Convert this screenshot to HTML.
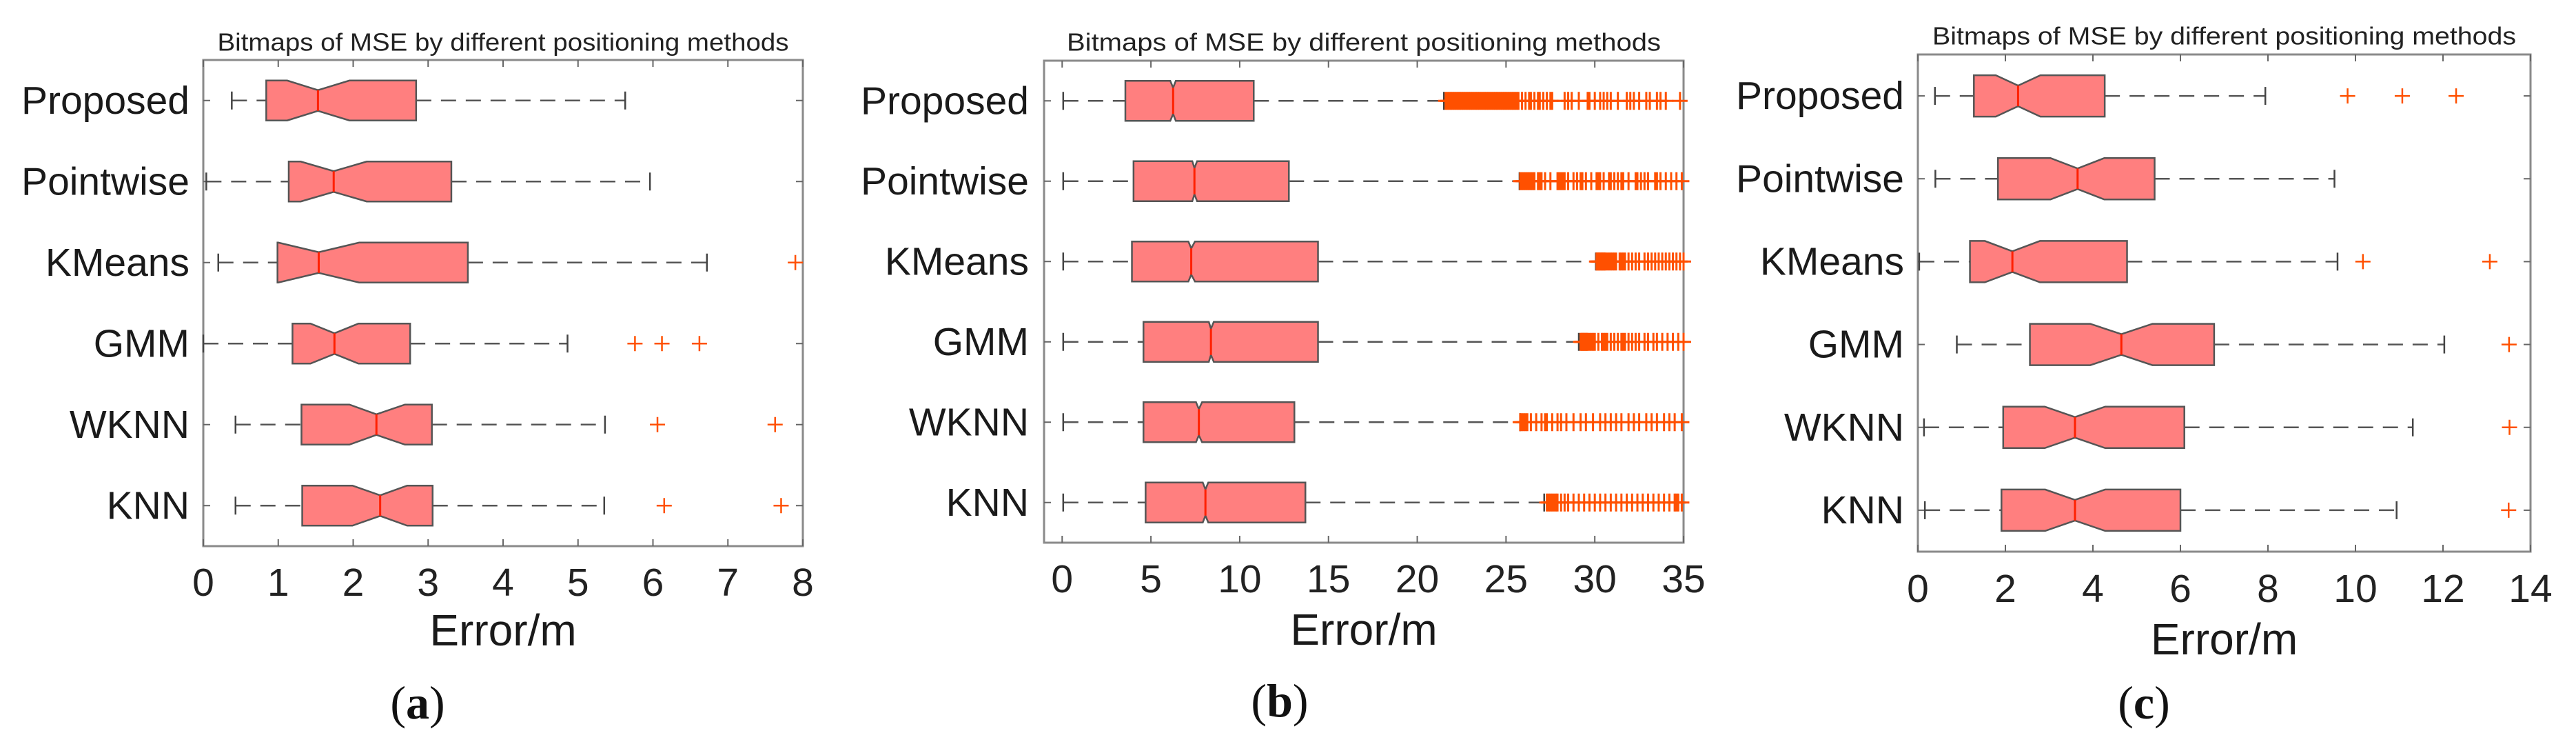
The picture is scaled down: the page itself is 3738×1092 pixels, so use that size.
<!DOCTYPE html>
<html><head><meta charset="utf-8"><style>
html,body{margin:0;padding:0;background:#fff;}
svg{display:block;font-family:"Liberation Sans",Arial,sans-serif;}
</style></head><body>
<svg id="fig" width="3738" height="1092" viewBox="0 0 3738 1092" xmlns="http://www.w3.org/2000/svg"></svg>
<script>
const categories = ["Proposed","Pointwise","KMeans","GMM","WKNN","KNN"];

// Panel (a)
const aWhiskLo = [0.38,0.04,0.20,0.00,0.43,0.43];
const aQ1      = [0.84,1.14,0.99,1.19,1.31,1.32];
const aNotchLo = [1.12,1.30,1.00,1.43,1.95,1.99];
const aMedian  = [1.53,1.74,1.54,1.75,2.31,2.36];
const aNotchHi = [1.95,2.18,2.08,2.07,2.69,2.72];
const aQ3      = [2.84,3.31,3.53,2.76,3.05,3.06];
const aWhiskHi = [5.63,5.96,6.72,4.86,5.36,5.35];
const aOutliers = [[],[],[7.90],[5.76,6.12,6.62],[6.06,7.63],[6.15,7.71]];
const aTicks = [0,1,2,3,4,5,6,7,8];

// Panel (b)
const bWhiskLo = [0.06,0.06,0.06,0.06,0.06,0.06];
const bQ1      = [3.56,4.02,3.93,4.58,4.58,4.70];
const bNotchLo = [6.09,7.33,7.11,8.26,7.54,7.92];
const bMedian  = [6.25,7.45,7.27,8.38,7.70,8.07];
const bNotchHi = [6.40,7.60,7.48,8.54,7.88,8.23];
const bQ3      = [10.79,12.77,14.41,14.41,13.08,13.70];
const bWhiskHi = [21.5,25.76,30.06,29.1,25.79,27.15];
const bOutliers = [
 [21.6,21.7,21.8,21.9,22.0,22.1,22.2,22.3,22.4,22.5,22.6,22.7,22.8,22.9,23.0,23.1,23.2,23.3,23.4,23.5,23.6,23.7,23.8,23.9,24.0,24.1,24.2,24.3,24.4,24.5,24.6,24.7,24.8,24.9,25.0,25.1,25.2,25.3,25.4,25.5,25.6,25.7,25.9,26.1,26.3,26.4,26.6,26.8,26.9,27.1,27.3,27.5,27.6,28.3,28.5,28.7,29.1,29.6,29.7,30.0,30.3,30.5,30.7,30.9,31.3,31.8,32.0,32.2,32.5,32.9,33.1,33.5,33.7,34.0,34.8],
 [25.8,25.9,26.0,26.1,26.2,26.3,26.4,26.5,26.6,26.8,26.9,27.0,27.2,27.5,27.9,28.0,28.1,28.2,28.3,28.5,28.8,29.0,29.2,29.3,29.5,29.8,30.1,30.2,30.3,30.5,30.8,30.9,31.1,31.3,31.5,31.6,31.9,32.3,32.4,32.6,32.8,33.0,33.4,33.5,33.7,34.0,34.3,34.6,34.9],
 [30.1,30.15,30.2,30.25,30.3,30.35,30.4,30.45,30.5,30.55,30.6,30.7,30.8,30.9,31.0,31.1,31.2,31.4,31.5,31.6,31.7,31.9,32.1,32.3,32.5,32.8,33.0,33.2,33.4,33.6,33.8,34.0,34.2,34.4,34.6,34.8,35.0],
 [29.2,29.25,29.3,29.35,29.4,29.45,29.5,29.55,29.6,29.7,29.8,29.9,30.0,30.2,30.4,30.5,30.6,30.7,30.9,31.1,31.3,31.5,31.6,31.7,31.9,32.1,32.3,32.5,32.8,33.0,33.3,33.5,33.8,34.1,34.4,34.7,35.0],
 [25.8,25.9,26.0,26.1,26.2,26.4,26.7,27.0,27.2,27.3,27.6,27.9,28.1,28.4,28.8,29.2,29.5,29.9,30.3,30.6,30.9,31.2,31.5,31.9,32.2,32.5,32.9,33.2,33.5,33.9,34.2,34.5,34.9],
 [27.3,27.4,27.5,27.6,27.7,27.8,27.9,28.1,28.3,28.5,28.8,29.1,29.4,29.7,30.0,30.3,30.6,30.9,31.2,31.5,31.8,32.1,32.4,32.7,33.0,33.3,33.6,33.9,34.2,34.5,34.6,34.7,34.9]
];
const bTicks = [0,5,10,15,20,25,30,35];

// Panel (c)
const cWhiskLo = [0.39,0.40,0.03,0.89,0.14,0.16];
const cQ1      = [1.28,1.83,1.19,2.56,1.95,1.91];
const cNotchLo = [1.78,3.03,1.53,3.94,2.90,2.91];
const cMedian  = [2.29,3.65,2.16,4.65,3.59,3.59];
const cNotchHi = [2.80,4.26,2.79,5.36,4.28,4.28];
const cQ3      = [4.27,5.41,4.78,6.77,6.09,6.00];
const cWhiskHi = [7.94,9.52,9.59,12.03,11.31,10.94];
const cOutliers = [[9.82,11.07,12.3],[],[10.17,13.07],[13.51],[13.52],[13.5]];
const cTicks = [0,2,4,6,8,10,12,14];

const NS = "http://www.w3.org/2000/svg";
const svg = document.getElementById('fig');
function mk(tag, attrs, parent){
  const e = document.createElementNS(NS, tag);
  for (const k in attrs) e.setAttribute(k, attrs[k]);
  (parent||svg).appendChild(e);
  return e;
}

function panel(p){
  const g = mk('g', {});
  
  
  const xs = v => p.L + (v - p.xmin) / (p.xmax - p.xmin) * (p.R - p.L);
  const ys = i => p.T + (i + 0.5) / categories.length * (p.B - p.T);
  const half = p.half;

  const t = mk('text', {x:(p.L+p.R)/2, y:p.titleY, 'text-anchor':'middle', 'dominant-baseline':'central', 'font-size':36, fill:'#222', textLength:p.titleW, lengthAdjust:'spacingAndGlyphs'}, g);
  t.textContent = 'Bitmaps of MSE by different positioning methods';
  
  

  const box = mk('rect', {x:p.L, y:p.T, width:p.R-p.L, height:p.B-p.T, fill:'none', stroke:'#8a8a8a', 'stroke-width':3}, g);
  
  

  p.ticks.forEach(v => {
    const x = xs(v);
    mk('line', {x1:x, x2:x, y1:p.B, y2:p.B-10, stroke:'#666', 'stroke-width':2}, g);
    mk('line', {x1:x, x2:x, y1:p.T, y2:p.T+10, stroke:'#666', 'stroke-width':2}, g);
    const tl = mk('text', {x:x, y:p.tickY, 'text-anchor':'middle', 'dominant-baseline':'central', 'font-size':57, fill:'#222'}, g);
    tl.textContent = v;
    
    
  });

  categories.forEach((c, i) => {
    const y = ys(i);
    mk('line', {x1:p.L, x2:p.L+10, y1:y, y2:y, stroke:'#666', 'stroke-width':2}, g);
    mk('line', {x1:p.R, x2:p.R-10, y1:y, y2:y, stroke:'#666', 'stroke-width':2}, g);
    const lab = mk('text', {x:p.labelX, y:y, 'text-anchor':'end', 'dominant-baseline':'central', 'font-size':57, fill:'#1a1a1a'}, g);
    lab.textContent = c;
    
    

    const wl = mk('line', {x1:xs(p.wlo[i]), x2:xs(p.q1[i]), y1:y, y2:y, stroke:'#555', 'stroke-width':2.5, 'stroke-dasharray':'22,14'}, g);
    
    
    const wh = mk('line', {x1:xs(p.q3[i]), x2:xs(p.whi[i]), y1:y, y2:y, stroke:'#555', 'stroke-width':2.5, 'stroke-dasharray':'22,14'}, g);
    
    
    mk('line', {x1:xs(p.wlo[i]), x2:xs(p.wlo[i]), y1:y-13, y2:y+13, stroke:'#444', 'stroke-width':2.5}, g);
    mk('line', {x1:xs(p.whi[i]), x2:xs(p.whi[i]), y1:y-13, y2:y+13, stroke:'#444', 'stroke-width':2.5}, g);

    const top = y-half, bot = y+half, d = p.depth;
    const pts = [[xs(p.q1[i]),top],[xs(p.nlo[i]),top],[xs(p.med[i]),top+d],[xs(p.nhi[i]),top],[xs(p.q3[i]),top],
                 [xs(p.q3[i]),bot],[xs(p.nhi[i]),bot],[xs(p.med[i]),bot-d],[xs(p.nlo[i]),bot],[xs(p.q1[i]),bot]];
    const bx = mk('polygon', {points:pts.map(q=>q.join(',')).join(' '), fill:'#ff7f7f', stroke:'#555', 'stroke-width':2.5}, g);
    
    
    const md = mk('line', {x1:xs(p.med[i]), x2:xs(p.med[i]), y1:top+d, y2:bot-d, stroke:'#ff2000', 'stroke-width':3}, g);
    
    

    p.out[i].forEach(v => {
      const x = xs(v);
      const o = mk('path', {d:`M${x-11},${y}H${x+11}M${x},${y-p.mk}V${y+p.mk}`, stroke:'#ff5000', 'stroke-width':p.mw, fill:'none'}, g);
      
      
    });
  });

  const xl = mk('text', {x:(p.L+p.R)/2, y:p.xlabelY, 'text-anchor':'middle', 'dominant-baseline':'central', 'font-size':64, fill:'#1a1a1a'}, g);
  xl.textContent = 'Error/m';
  
  

  const cap = mk('text', {x:p.capX, y:p.capY, 'text-anchor':'middle', 'dominant-baseline':'central', 'font-size':68, fill:'#111', 'font-family':'"Liberation Serif",serif'}, g);
  cap.innerHTML = '(<tspan font-weight="bold">' + p.id + '</tspan>)';
  
  
}

panel({id:'a', L:295, R:1165, T:87, B:792, xmin:0, xmax:8, half:29, depth:14, mk:11, mw:2.5,
  titleY:61, titleW:829, tickY:845, labelX:275, xlabelY:914, capX:606, capY:1019,
  ticks:aTicks, wlo:aWhiskLo, q1:aQ1, nlo:aNotchLo, med:aMedian, nhi:aNotchHi, q3:aQ3, whi:aWhiskHi, out:aOutliers});
panel({id:'b', L:1515, R:2443, T:88, B:787, xmin:-1.02, xmax:35, half:29, depth:10, mk:13, mw:3,
  titleY:61, titleW:862, tickY:840, labelX:1493, xlabelY:913, capX:1857, capY:1016,
  ticks:bTicks, wlo:bWhiskLo, q1:bQ1, nlo:bNotchLo, med:bMedian, nhi:bNotchHi, q3:bQ3, whi:bWhiskHi, out:bOutliers});
panel({id:'c', L:2783, R:3672, T:79, B:800, xmin:0, xmax:14, half:30, depth:15, mk:11, mw:2.5,
  titleY:52, titleW:847, tickY:854, labelX:2763, xlabelY:927, capX:3111, capY:1019,
  ticks:cTicks, wlo:cWhiskLo, q1:cQ1, nlo:cNotchLo, med:cMedian, nhi:cNotchHi, q3:cQ3, whi:cWhiskHi, out:cOutliers});
</script>
</body></html>
